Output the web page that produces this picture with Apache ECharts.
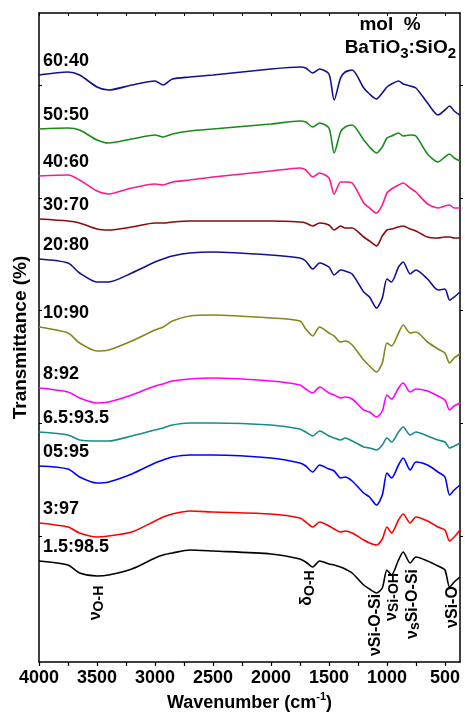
<!DOCTYPE html>
<html>
<head>
<meta charset="utf-8">
<script src="https://cdn.jsdelivr.net/npm/echarts@6/dist/echarts.min.js"></script>
<style>
  html, body { margin: 0; padding: 0; background: #fff; }
  #chart { width: 465px; height: 718px; }
</style>
</head>
<body>
<div id="chart"></div>
<script>
// wavenumber grid (cm-1), shared by all spectra
const wavenumbers = [4000, 3750, 3650, 3500, 3400, 3200, 3000, 2930, 2850, 2700, 2500, 2000, 1750, 1700, 1640, 1580, 1500, 1455, 1400, 1360, 1300, 1200, 1150, 1090, 1040, 1000, 960, 900, 860, 800, 750, 650, 560, 500, 460, 420, 370]

// stacked transmittance (arbitrary offset units)
const t60_40 = [587, 590, 587, 575, 572, 577, 581, 577, 583, 585, 587, 593, 595, 594, 589, 593, 588, 562, 584, 590, 592, 574, 568, 563, 569, 575, 578, 581, 578, 576, 574, 559, 547, 552, 556, 551, 547]
const t50_50 = [533, 534, 532, 522, 519, 523, 527, 525, 528, 531, 533, 538, 541, 540, 535, 539, 534, 509, 530, 535, 537, 522, 515, 509, 515, 524, 526, 529, 526, 527, 526, 508, 500, 505, 508, 504, 501]
const t40_60 = [486, 487, 482, 471, 468, 474, 478, 477, 480, 482, 485, 491, 494, 492, 485, 489, 484, 468, 480, 480, 479, 459, 454, 449, 457, 469, 473, 477, 479, 474, 470, 458, 454, 456, 457, 454, 454]
const t30_70 = [443, 441, 439, 433, 432, 435, 439, 439, 440, 441, 441, 441, 440, 439, 436, 439, 437, 432, 436, 434, 434, 425, 421, 416, 426, 432, 433, 435, 436, 433, 431, 425, 424, 425, 425, 424, 424]
const t20_80 = [403, 399, 389, 380, 380, 389, 400, 403, 406, 409, 410, 407, 404, 401, 393, 399, 395, 387, 392, 391, 388, 370, 365, 354, 364, 383, 380, 395, 400, 388, 392, 383, 372, 373, 362, 365, 370]
const t10_90 = [335, 329, 319, 311, 312, 321, 332, 335, 341, 346, 347, 344, 341, 333, 326, 335, 329, 326, 320, 321, 317, 302, 296, 290, 299, 319, 316, 329, 337, 329, 330, 320, 313, 309, 299, 304, 308]
const t8_92 = [274, 270, 264, 259, 260, 267, 276, 278, 281, 283, 284, 281, 277, 273, 269, 275, 269, 267, 264, 265, 263, 252, 250, 245, 251, 267, 263, 274, 279, 270, 273, 271, 266, 262, 252, 256, 259]
const t65_935 = [230, 227, 222, 221, 221, 226, 232, 234, 237, 239, 239, 237, 233, 230, 226, 231, 226, 224, 222, 224, 221, 215, 214, 212, 217, 224, 220, 230, 235, 227, 230, 226, 222, 220, 214, 216, 219]
const t05_95 = [196, 193, 185, 179, 180, 188, 199, 202, 205, 207, 207, 204, 199, 196, 190, 197, 193, 191, 184, 185, 181, 169, 165, 157, 167, 189, 184, 197, 204, 192, 200, 197, 190, 185, 167, 172, 177]
const t3_97 = [139, 135, 129, 125, 126, 130, 141, 145, 148, 151, 150, 148, 144, 140, 135, 140, 136, 133, 130, 131, 129, 122, 119, 117, 123, 135, 129, 142, 148, 139, 145, 141, 135, 132, 121, 125, 132]
const t15_985 = [101, 97, 89, 86, 87, 93, 104, 107, 109, 112, 111, 108, 103, 100, 95, 101, 98, 97, 95, 93, 89, 77, 73, 69, 74, 92, 87, 102, 110, 99, 105, 101, 96, 92, 75, 80, 85]

const sampleNames = ["60:40", "50:50", "40:60", "30:70", "20:80", "10:90", "8:92", "6.5:93.5", "05:95", "3:97", "1.5:98.5"]
const spectra = [t60_40, t50_50, t40_60, t30_70, t20_80, t10_90, t8_92, t65_935, t05_95, t3_97, t15_985]
const sampleColors = ["#12128f", "#1a8a1a", "#ff1a8c", "#8b0a0a", "#12128f", "#85851a", "#ff00ff", "#1a8a8a", "#0000ff", "#ff0000", "#000000"]

// x axis ticks / labels
const xTicks = [4000, 3750, 3500, 3250, 3000, 2750, 2500, 2250, 2000, 1750, 1500, 1250, 1000, 750, 500]
const xLabels = [4000, 3500, 3000, 2500, 2000, 1500, 1000, 500]
const yTicks = [126, 239, 352, 464, 577]

// band assignments: wavenumber, symbol, subscript, rest
const bands = [
  { w: 3510, head: "ν", sub: "O-H", tail: "", y: 603 },
  { w: 1690, head: "δ", sub: "O-H", tail: "", y: 588 },
  { w: 1100, head: "ν", sub: "", tail: "Si-O-Si", y: 625 },
  { w: 960, head: "ν", sub: "Si-OH", tail: "", y: 597 },
  { w: 780, head: "ν", sub: "s", tail: "Si-O-Si", y: 604 },
  { w: 430, head: "ν", sub: "", tail: "Si-O", y: 607 },
]

const FONT = '"Liberation Sans", Arial, Helvetica, sans-serif'

const baseAxis = {
  type: "value",
  splitLine: { show: false },
  axisLine: { show: true, onZero: false, lineStyle: { color: "#000", width: 1.5 } },
}

const option = {
  animation: false,
  backgroundColor: "#fff",
  grid: { left: 39, right: 5, top: 13, bottom: 56 },
  xAxis: [
    {
      ...baseAxis,
      inverse: true,
      min: 370,
      max: 4000,
      position: "bottom",
      axisTick: { show: true, inside: false, length: 4, customValues: xTicks, lineStyle: { color: "#000", width: 1.2 } },
      axisLabel: {
        customValues: xLabels,
        formatter: (v) => String(v),
        color: "#000",
        fontSize: 18,
        fontWeight: "bold",
        fontFamily: FONT,
        margin: 7,
      },
      name: "{t|Wavenumber (cm}{s|-1}{t|)}",
      nameLocation: "middle",
      nameGap: 27,
      nameTextStyle: {
        rich: {
          t: { fontSize: 18, fontWeight: "bold", fontFamily: FONT, color: "#000", lineHeight: 22 },
          s: { fontSize: 11, fontWeight: "bold", fontFamily: FONT, color: "#000", verticalAlign: "top", lineHeight: 12 },
        },
      },
    },
    {
      ...baseAxis,
      inverse: true,
      min: 370,
      max: 4000,
      position: "top",
      axisTick: { show: true, inside: true, length: 3, customValues: xTicks, lineStyle: { color: "#000", width: 1 } },
      axisLabel: { show: false },
    },
  ],
  yAxis: [
    {
      ...baseAxis,
      min: 0,
      max: 649,
      position: "left",
      axisTick: { show: true, inside: true, length: 3, customValues: yTicks, lineStyle: { color: "#000", width: 1 } },
      axisLabel: { show: false },
      name: "Transmittance (%)",
      nameLocation: "middle",
      nameGap: 9,
      nameTextStyle: { fontSize: 19, fontWeight: "bold", fontFamily: FONT, color: "#000" },
    },
    {
      ...baseAxis,
      min: 0,
      max: 649,
      position: "right",
      axisTick: { show: true, inside: false, length: 3, customValues: yTicks, lineStyle: { color: "#000", width: 1 } },
      axisLabel: { show: false },
    },
  ],
  series: spectra.map((vals, i) => ({
    name: sampleNames[i],
    type: "line",
    xAxisIndex: 0,
    yAxisIndex: 0,
    showSymbol: false,
    smooth: 0.25,
    lineStyle: { color: sampleColors[i], width: 1.6 },
    data: wavenumbers.map((w, j) => [w, vals[j]]),
  })),
}

const chart = echarts.init(document.getElementById("chart"))
chart.setOption(option)

// 文字标注
const graphics = []
spectra.forEach((vals, i) => {
  const p = chart.convertToPixel({ xAxisIndex: 0, yAxisIndex: 0 }, [wavenumbers[0], vals[0]])
  graphics.push({
    type: "text",
    x: 43,
    y: p[1] - 14,
    style: {
      text: sampleNames[i],
      fill: "#000",
      fontSize: 18,
      fontWeight: "bold",
      fontFamily: FONT,
      align: "left",
      verticalAlign: "middle",
    },
  })
})

graphics.push({
  type: "text",
  x: 390,
  y: 25,
  style: { text: "mol  %", fill: "#000", fontSize: 19, fontWeight: "bold", fontFamily: FONT, align: "center", verticalAlign: "middle" },
})
graphics.push({
  type: "text",
  x: 456,
  y: 48,
  style: {
    text: "{a|BaTiO}{s|3}{a|:SiO}{s|2}",
    align: "right",
    verticalAlign: "middle",
    rich: {
      a: { fontSize: 19, fontWeight: "bold", fontFamily: FONT, fill: "#000", lineHeight: 26 },
      s: { fontSize: 15, fontWeight: "bold", fontFamily: FONT, fill: "#000", lineHeight: 15, verticalAlign: "bottom" },
    },
  },
})

bands.forEach((b) => {
  const px = chart.convertToPixel({ xAxisIndex: 0 }, b.w)
  let txt = "{n|" + b.head + "}"
  if (b.sub) txt += "{s|" + b.sub + "}"
  if (b.tail) txt += "{n|" + b.tail + "}"
  graphics.push({
    type: "text",
    x: px,
    y: b.y,
    rotation: Math.PI / 2,
    style: {
      text: txt,
      align: "center",
      verticalAlign: "middle",
      rich: {
        n: { fontSize: 16, fontWeight: "bold", fontFamily: FONT, fill: "#000", lineHeight: 20 },
        s: { fontSize: 14, fontWeight: "bold", fontFamily: FONT, fill: "#000", lineHeight: 14, verticalAlign: "bottom" },
      },
    },
  })
})

chart.setOption({ graphic: graphics })
</script>
</body>
</html>
